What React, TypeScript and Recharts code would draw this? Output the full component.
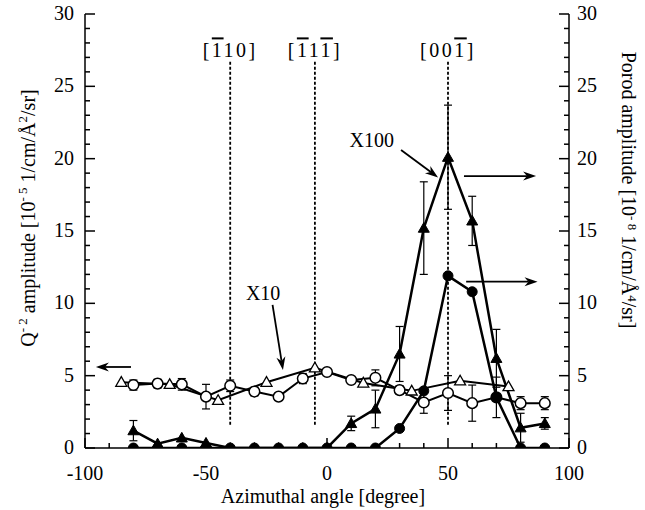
import React from 'react';
import { ComposedChart, Line, XAxis, YAxis, ErrorBar, ReferenceLine, ReferenceDot, Label } from 'recharts';

const FONT = '"Liberation Serif", "Times New Roman", serif';

// x positions
const angles = [-80, -70, -60, -50, -40, -30, -20, -10, 0, 10, 20, 30, 40, 50, 60, 70, 80, 90];
const triangleAngles = [-85, -65, -45, -25, -5, 15, 35, 55, 75];

// Q^-2 amplitude, open circles (left axis)
const qCircleValues = [4.35, 4.45, 4.4, 3.55, 4.3, 3.9, 3.55, 4.8, 5.25, 4.7, 4.85, 4.0, 3.15, 3.8, 3.1, 3.5, 3.1, 3.1];
const qCircleErrors = [0.35, 0.3, 0.4, 0.85, 0.4, 0.3, 0.1, 0.35, 0.1, 0.15, 0.55, 0.3, 0.75, 1.2, 1.25, 1.4, 0.45, 0.45];

// Q^-2 amplitude, open triangles (left axis)
const qTriangleValues = [4.55, 4.4, 3.3, 4.55, 5.55, 4.5, 3.95, 4.65, 4.25];

// Porod amplitude, filled triangles (right axis, X100)
const porodTriangleValues = [1.2, 0.3, 0.7, 0.35, 0, 0, 0, 0, 0, 1.7, 2.7, 6.5, 15.2, 20.1, 15.7, 6.2, 1.4, 1.7];
const porodTriangleErrors = [0.7, 0, 0, 0, 0, 0, 0, 0, 0, 0.5, 1.3, 1.9, 3.2, 3.6, 1.7, 2.0, 1.0, 0.4];

// Porod amplitude, filled circles (right axis)
const porodCircleValues = [0, 0, 0, 0, 0, 0, 0, 0, 0, 0, 0, 1.35, 3.95, 11.9, 10.8, 3.5, 0, 0];

// axis ticks
const xTicks = [-100, -90, -80, -70, -60, -50, -40, -30, -20, -10, 0, 10, 20, 30, 40, 50, 60, 70, 80, 90, 100];
const yTicks = Array.from({ length: 31 }, (_, i) => i);

// direction markers
const directionLines = [-40, -5, 50];
const directionLabels = [
  { x: -40, parts: [['[', false], ['1', true], ['10]', false]] },
  { x: -5, parts: [['[', false], ['1', true], ['1', false], ['1', true], [']', false]] },
  { x: 50, parts: [['[00', false], ['1', true], [']', false]] },
];

const qCircleData = angles.map((x, i) => ({ x, y: qCircleValues[i], err: qCircleErrors[i] }));
const qTriangleData = triangleAngles.map((x, i) => ({ x, y: qTriangleValues[i] }));
const porodTriangleData = angles.map((x, i) => ({ x, y: porodTriangleValues[i], err: porodTriangleErrors[i] }));
const porodCircleData = angles.map((x, i) => ({ x, y: porodCircleValues[i] }));

const OpenCircle = (p: any) => (
  <circle key={p.index} cx={p.cx} cy={p.cy} r={5.3} fill="#fff" stroke="#000" strokeWidth={1.5} />
);
const FilledCircle = (p: any) => (
  <circle key={p.index} cx={p.cx} cy={p.cy} r={5} fill="#000" stroke="#000" strokeWidth={1} />
);
const triPoints = (cx: number, cy: number, s: number) =>
  `${cx},${cy - s} ${cx - s * 1.0},${cy + s * 0.75} ${cx + s * 1.0},${cy + s * 0.75}`;
const OpenTriangle = (p: any) => (
  <polygon key={p.index} points={triPoints(p.cx, p.cy, 5.5)} fill="#fff" stroke="#000" strokeWidth={1.3} />
);
const FilledTriangle = (p: any) => (
  <polygon key={p.index} points={triPoints(p.cx, p.cy, 5.5)} fill="#000" stroke="#000" strokeWidth={1} />
);

const LeftTick = (p: any) => {
  const v = p.payload.value;
  const major = v % 5 === 0;
  return (
    <g>
      <line x1={p.x} x2={p.x + (major ? 10 : 5)} y1={p.y} y2={p.y} stroke="#000" strokeWidth={1.5} />
      {major && (
        <text x={p.x - 11} y={p.y + 6} textAnchor="end" fontSize={20} fontFamily={FONT} fill="#000">{v}</text>
      )}
    </g>
  );
};
const RightTick = (p: any) => {
  const v = p.payload.value;
  const major = v % 5 === 0;
  return (
    <g>
      <line x1={p.x} x2={p.x - (major ? 10 : 5)} y1={p.y} y2={p.y} stroke="#000" strokeWidth={1.5} />
      {major && (
        <text x={p.x + 8} y={p.y + 6} textAnchor="start" fontSize={20} fontFamily={FONT} fill="#000">{v}</text>
      )}
    </g>
  );
};
const BottomTick = (p: any) => {
  const v = p.payload.value;
  const major = v % 50 === 0;
  return (
    <g>
      <line x1={p.x} x2={p.x} y1={p.y} y2={p.y - (major ? 10 : 5)} stroke="#000" strokeWidth={1.5} />
      {major && (
        <text x={p.x} y={p.y + 32} textAnchor="middle" fontSize={20} fontFamily={FONT} fill="#000">{v}</text>
      )}
    </g>
  );
};
const TopTick = (p: any) => {
  const v = p.payload.value;
  const major = v % 50 === 0;
  return <line x1={p.x} x2={p.x} y1={p.y} y2={p.y + (major ? 10 : 5)} stroke="#000" strokeWidth={1.5} />;
};

const Arrow = (props: any) => {
  const { x1, y1, x2, y2 } = props;
  const dx = x2 - x1;
  const dy = y2 - y1;
  const len = Math.sqrt(dx * dx + dy * dy) || 1;
  const ux = dx / len;
  const uy = dy / len;
  const hl = 13;
  const hw = 4.5;
  const bx = x2 - ux * hl;
  const by = y2 - uy * hl;
  const mx = x2 - ux * hl * 0.7;
  const my = y2 - uy * hl * 0.7;
  return (
    <g>
      <line x1={x1} y1={y1} x2={mx} y2={my} stroke="#000" strokeWidth={1.8} />
      <polygon
        points={`${x2},${y2} ${bx - uy * hw},${by + ux * hw} ${mx},${my} ${bx + uy * hw},${by - ux * hw}`}
        fill="#000"
      />
    </g>
  );
};

const arrows = [
  { from: { x: -81, y: 5.6 }, to: { x: -95.5, y: 5.6 } },
  { from: { x: 56.6, y: 18.8 }, to: { x: 86.4, y: 18.8 } },
  { from: { x: 57.5, y: 11.5 }, to: { x: 87, y: 11.5 } },
  { from: { x: 30.6, y: 20.6 }, to: { x: 45.9, y: 18.7 } },
  { from: { x: -22.5, y: 9.9 }, to: { x: -18.2, y: 5.4 } },
];

const textAnnotations = [
  { x: 18.5, y: 20.8, text: 'X100' },
  { x: -26.4, y: 10.25, text: 'X10' },
];

const LeftTitle = (p: any) => {
  const vb = p.viewBox || { x: 0, y: 14, width: 85, height: 434 };
  const cx = vb.x + 35;
  const cy = vb.y + 204;
  return (
    <text x={cx} y={cy} transform={`rotate(-90, ${cx}, ${cy})`} textAnchor="middle" fontSize={20} fontFamily={FONT} fill="#000">
      Q<tspan dy={-8} fontSize={13}>- 2</tspan>
      <tspan dy={8}> amplitude [10</tspan>
      <tspan dy={-8} fontSize={13}>- 5</tspan>
      <tspan dy={8}> 1/cm/Å</tspan>
      <tspan dy={-8} fontSize={13}>2</tspan>
      <tspan dy={8}>/sr]</tspan>
    </text>
  );
};
const RightTitle = (p: any) => {
  const vb = p.viewBox || { x: 569, y: 14, width: 76, height: 434 };
  const cx = vb.x + 53;
  const cy = vb.y + 176;
  return (
    <text x={cx} y={cy} transform={`rotate(90, ${cx}, ${cy})`} textAnchor="middle" fontSize={20} fontFamily={FONT} fill="#000">
      Porod amplitude [10<tspan dy={-6} fontSize={13}>- 8</tspan>
      <tspan dy={6}> 1/cm/Å</tspan>
      <tspan dy={-6} fontSize={13}>4</tspan>
      <tspan dy={6}>/sr]</tspan>
    </text>
  );
};
const BottomTitle = (p: any) => {
  const vb = p.viewBox || { x: 85, y: 448, width: 484, height: 62 };
  return (
    <text x={vb.x + vb.width / 2 - 4} y={vb.y + 55} textAnchor="middle" fontSize={20} fontFamily={FONT} fill="#000">
      Azimuthal angle [degree]
    </text>
  );
};

export default function App() {
  return (
    <div style={{ position: 'absolute', left: 0, top: 0, background: '#fff' }}>
      <ComposedChart width={645} height={510} margin={{ top: 14, right: 0, bottom: 0, left: 0 }}>
        <XAxis
          dataKey="x"
          type="number"
          domain={[-100, 100]}
          ticks={xTicks}
          interval={0}
          tickSize={0}
          tickMargin={0}
          tick={BottomTick}
          height={62}
          axisLine={{ stroke: '#000', strokeWidth: 1.5 }}
          allowDataOverflow
        >
          <Label content={BottomTitle} />
        </XAxis>
        <XAxis
          xAxisId="top"
          orientation="top"
          type="number"
          domain={[-100, 100]}
          ticks={xTicks}
          interval={0}
          tickSize={0}
          tickMargin={0}
          tick={TopTick}
          height={0}
          axisLine={{ stroke: '#000', strokeWidth: 1.5 }}
          allowDataOverflow
        />
        <YAxis
          yAxisId="L"
          type="number"
          domain={[0, 30]}
          ticks={yTicks}
          interval={0}
          tickSize={0}
          tickMargin={0}
          tick={LeftTick}
          width={85}
          axisLine={{ stroke: '#000', strokeWidth: 1.5 }}
          allowDataOverflow
        >
          <Label content={LeftTitle} />
        </YAxis>
        <YAxis
          yAxisId="R"
          orientation="right"
          type="number"
          domain={[0, 30]}
          ticks={yTicks}
          interval={0}
          tickSize={0}
          tickMargin={0}
          tick={RightTick}
          width={76}
          axisLine={{ stroke: '#000', strokeWidth: 1.5 }}
          allowDataOverflow
        >
          <Label content={RightTitle} />
        </YAxis>

        {directionLines.map((x) => (
          <ReferenceLine
            key={'d' + x}
            yAxisId="L"
            segment={[{ x, y: 1.6 }, { x, y: 26.7 }]}
            stroke="#000"
            strokeWidth={1.8}
            strokeDasharray="3 2"
          />
        ))}
        {directionLabels.map((d) => (
          <ReferenceDot
            key={'l' + d.x}
            yAxisId="L"
            x={d.x}
            y={27.0}
            r={0}
            shape={(p: any) => (
              <text x={p.cx} y={p.cy} textAnchor="middle" fontSize={20} fontFamily={FONT} letterSpacing={2.5} fill="#000">
                {d.parts.map((pt: any, i: number) => (
                  <tspan key={i} style={pt[1] ? { textDecoration: 'overline' } : undefined}>{pt[0]}</tspan>
                ))}
              </text>
            )}
          />
        ))}
        {textAnnotations.map((t) => (
          <ReferenceDot
            key={t.text}
            yAxisId="R"
            x={t.x}
            y={t.y}
            r={0}
            shape={(p: any) => (
              <text x={p.cx} y={p.cy} textAnchor="middle" fontSize={20} fontFamily={FONT} fill="#000">{t.text}</text>
            )}
          />
        ))}
        {arrows.map((a, i) => (
          <ReferenceLine key={'a' + i} yAxisId="R" segment={[a.from, a.to]} shape={Arrow} />
        ))}

        <Line
          yAxisId="L"
          data={qTriangleData}
          dataKey="y"
          stroke="#000"
          strokeWidth={2}
          dot={OpenTriangle}
          activeDot={false}
          isAnimationActive={false}
          legendType="none"
        />
        <Line
          yAxisId="L"
          data={qCircleData}
          dataKey="y"
          stroke="#000"
          strokeWidth={2}
          dot={OpenCircle}
          activeDot={false}
          isAnimationActive={false}
          legendType="none"
        >
          <ErrorBar dataKey="err" width={4} stroke="#000" strokeWidth={1.2} direction="y" />
        </Line>
        <Line
          yAxisId="R"
          data={porodCircleData}
          dataKey="y"
          stroke="#000"
          strokeWidth={2.5}
          dot={FilledCircle}
          activeDot={false}
          isAnimationActive={false}
          legendType="none"
        />
        <Line
          yAxisId="R"
          data={porodTriangleData}
          dataKey="y"
          stroke="#000"
          strokeWidth={2.5}
          dot={FilledTriangle}
          activeDot={false}
          isAnimationActive={false}
          legendType="none"
        >
          <ErrorBar dataKey="err" width={4} stroke="#000" strokeWidth={1.2} direction="y" />
        </Line>
      </ComposedChart>
    </div>
  );
}
